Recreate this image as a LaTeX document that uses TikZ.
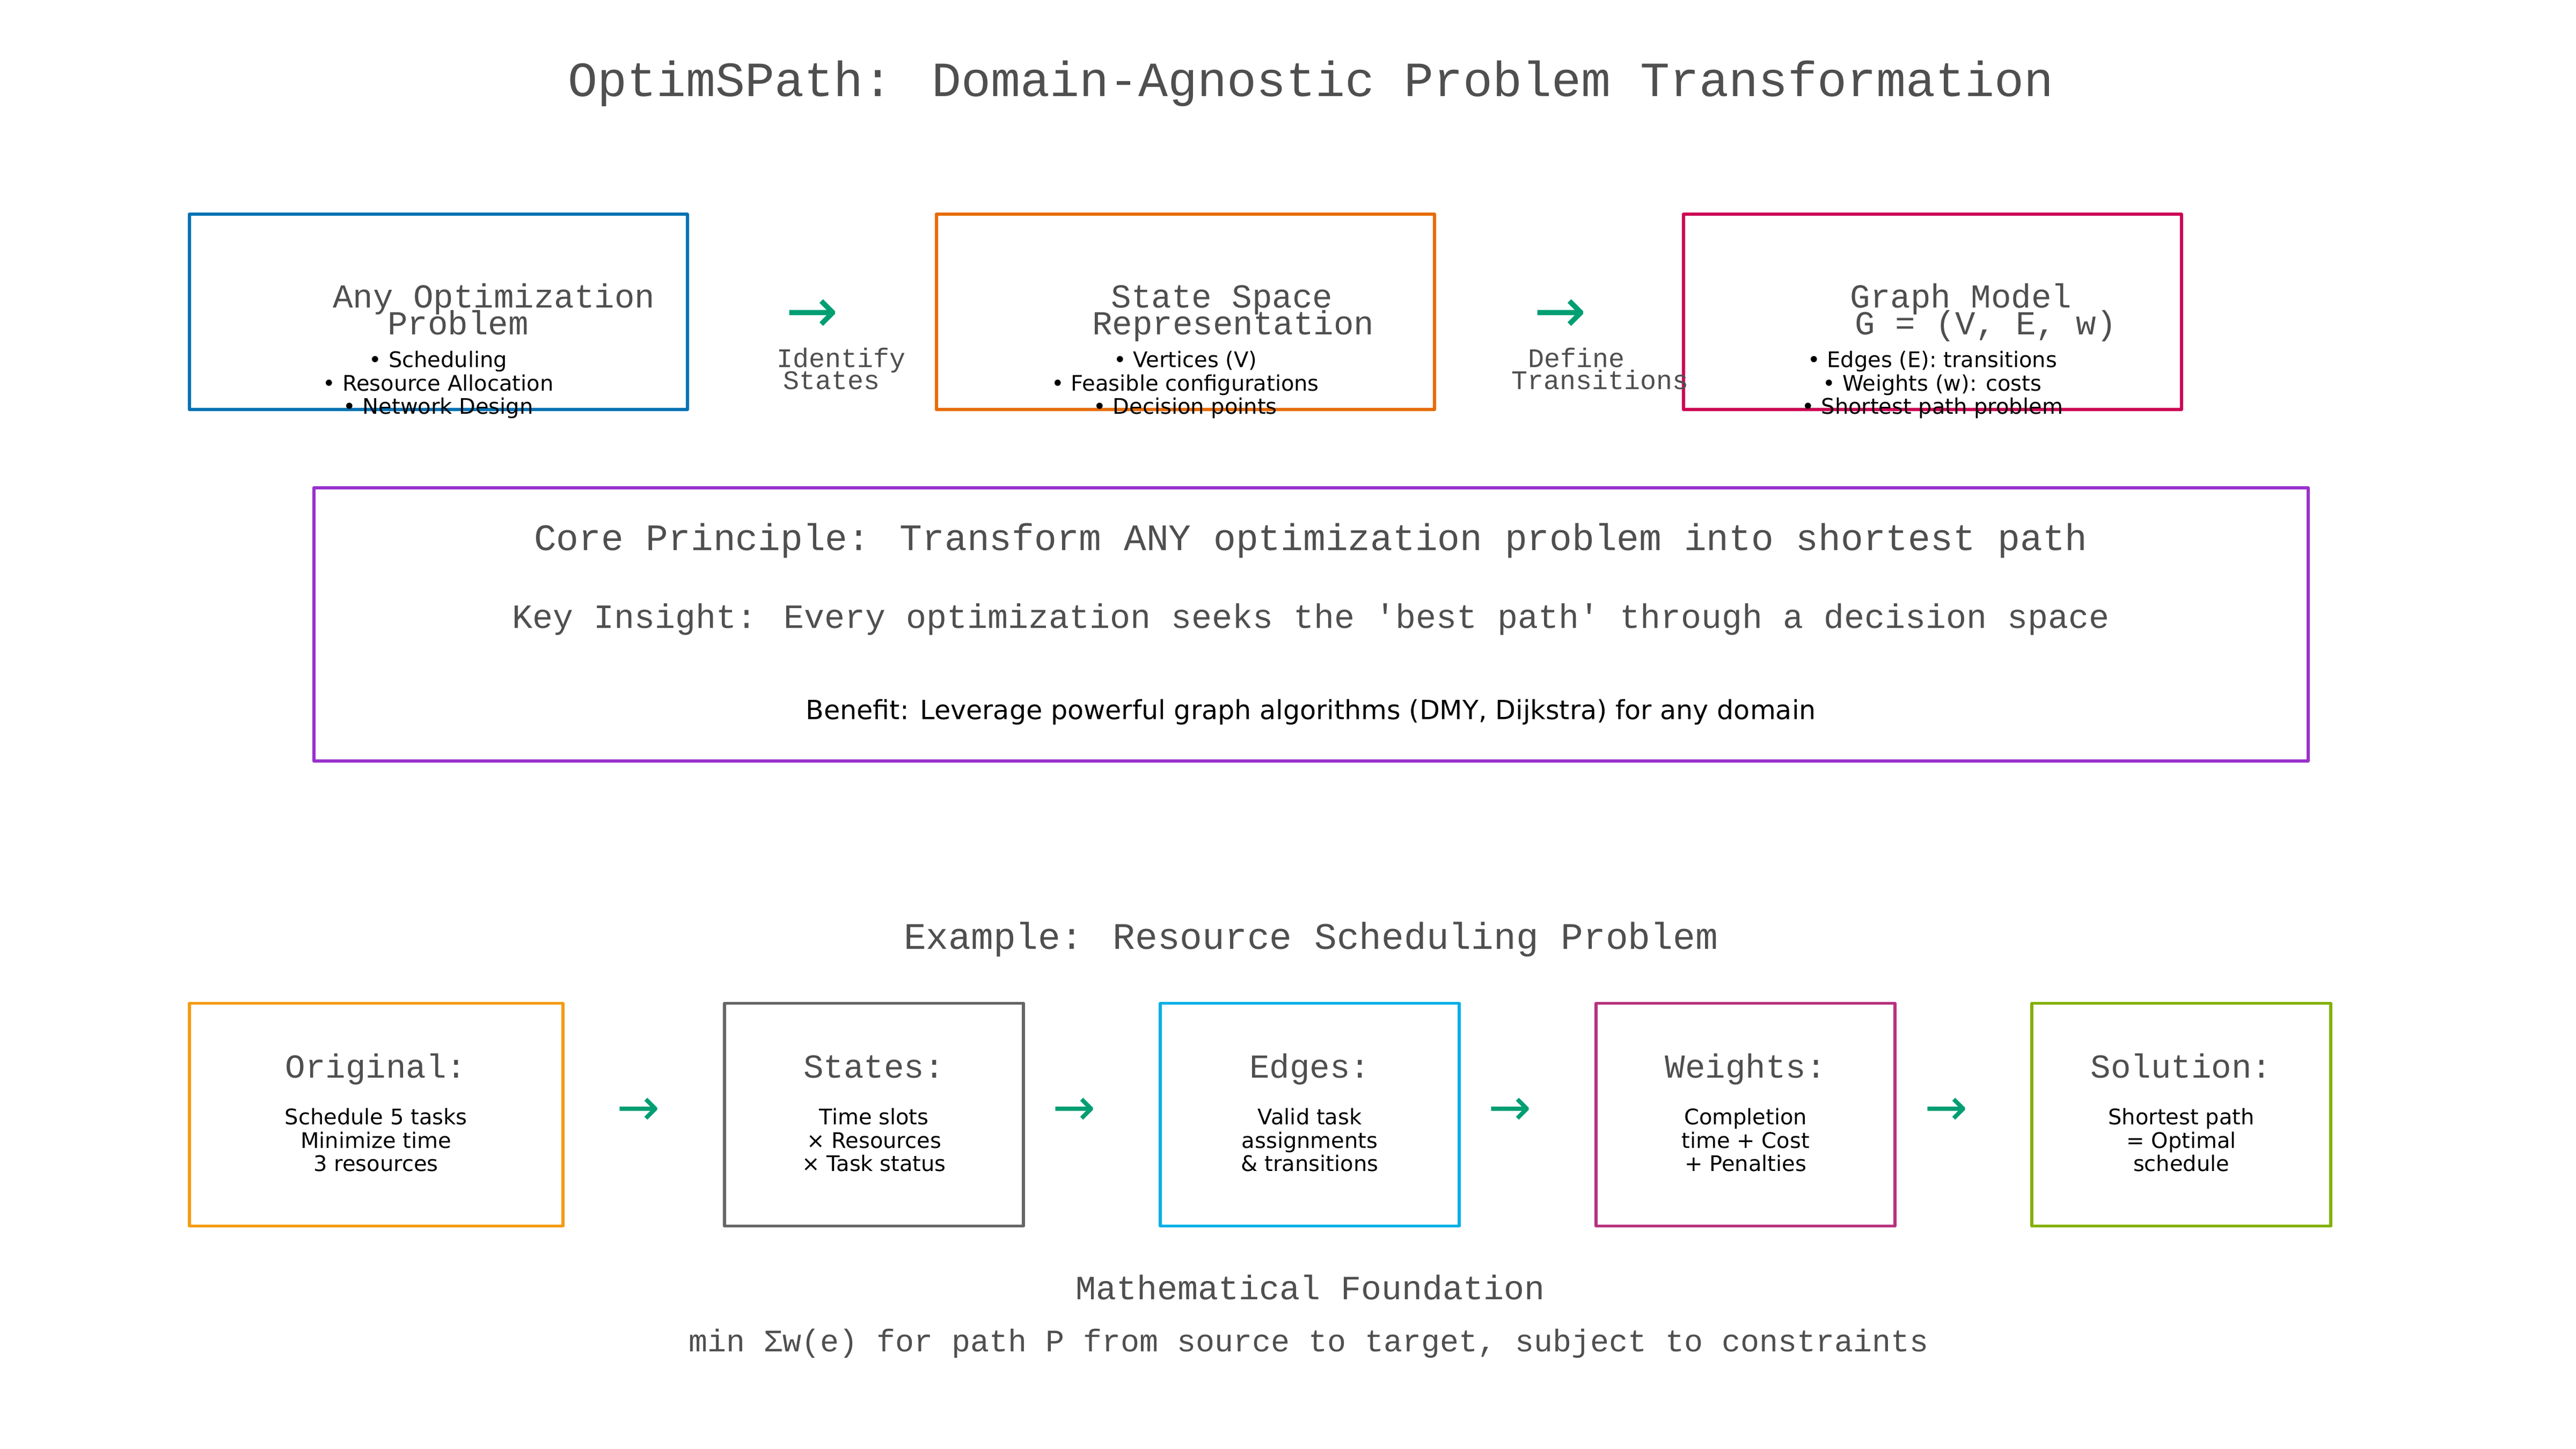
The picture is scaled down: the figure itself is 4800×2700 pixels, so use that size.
\documentclass[tikz,border=0pt]{standalone}
\usepackage{fontspec}
\setmainfont{DejaVu Sans}
\newfontfamily\monof{Liberation Mono}
\newfontfamily\arrowf{DejaVu Sans}
\definecolor{txtgray}{HTML}{4F4F4F}
\definecolor{cblue}{HTML}{0072B2}
\definecolor{corange}{HTML}{E66C00}
\definecolor{ccrimson}{HTML}{CC0055}
\definecolor{cpurple}{HTML}{9932CC}
\definecolor{cyellow}{HTML}{F39C12}
\definecolor{cgray}{HTML}{666666}
\definecolor{ccyan}{HTML}{00B0E6}
\definecolor{cmagenta}{HTML}{B8327F}
\definecolor{cgreen}{HTML}{84B000}
\definecolor{carrow}{HTML}{009E73}
\tikzset{
  frame/.style={draw, line width=1.4pt, inner sep=0, outer sep=0, line join=round, fill=none},
  mbase/.style={font=\monof, text=txtgray, inner sep=0, anchor=base},
  mtitle/.style={mbase, font=\monof\fontsize{22pt}{26pt}\selectfont},
  mbig/.style={mbase, font=\monof\fontsize{16.7pt}{20pt}\selectfont},
  mmid/.style={mbase, font=\monof\fontsize{15pt}{18pt}\selectfont},
  mkey/.style={mbase, font=\monof\fontsize{15.2pt}{18pt}\selectfont},
  msmall/.style={mbase, font=\monof\fontsize{12pt}{14pt}\selectfont},
  mfoot/.style={mbase, font=\monof\fontsize{14pt}{17pt}\selectfont},
  sbody/.style={font=\fontsize{9.6pt}{11.5pt}\selectfont, text=black, inner sep=0, anchor=base},
  sbenefit/.style={font=\fontsize{11.8pt}{14pt}\selectfont, text=black, inner sep=0, anchor=base},
  bigarrow/.style={font=\arrowf\fontsize{28pt}{30pt}\selectfont, text=carrow, inner sep=0, anchor=center},
  smallarrow/.style={font=\arrowf\fontsize{23pt}{25pt}\selectfont, text=carrow, inner sep=0, anchor=center},
  topbox/.style={frame, minimum width=928*0.24pt, minimum height=364*0.24pt},
  botbox/.style={frame, minimum width=556.8*0.24pt, minimum height=415*0.24pt}
}
\begin{document}
\begin{tikzpicture}[x=0.24pt,y=-0.24pt]
\useasboundingbox (0,0) rectangle (4800,2700);
\fill[white] (0,0) rectangle (4800,2700);

% Title
\node[mtitle] (title) at (2442.6,180) {OptimSPath: Domain-Agnostic Problem Transformation};

% Top row boxes
\node[topbox, draw=cblue] (tb1) at (816.6,581.3) {};
\node[topbox, draw=corange] (tb2) at (2208.6,581.3) {};
\node[topbox, draw=ccrimson] (tb3) at (3600.6,581.3) {};

% Box 1 text
\node[mmid] (t1a) at (920.3,573.3) {Any Optimization};
\node[mmid] (t1b) at (853.5,623.3) {Problem};
\node[sbody] (t1c) at (816.6,684.3) {• Scheduling};
\node[sbody] (t1d) at (816.6,728.3) {• Resource Allocation};
\node[sbody] (t1e) at (816.6,771.7) {• Network Design};

% Box 2 text
\node[mmid] (t2a) at (2276.8,573.3) {State Space};
\node[mmid] (t2b) at (2297.9,623.3) {Representation};
\node[sbody] (t2c) at (2208.6,684.3) {• Vertices (V)};
\node[sbody] (t2d) at (2208.6,728.3) {• Feasible configurations};
\node[sbody] (t2e) at (2208.6,771.7) {• Decision points};

% Box 3 text
\node[mmid] (t3a) at (3654.2,573.3) {Graph Model};
\node[mmid] (t3b) at (3699.8,623.3) {G = (V, E, w)};
\node[sbody] (t3c) at (3600.6,684.3) {• Edges (E): transitions};
\node[sbody] (t3d) at (3600.6,728.3) {• Weights (w): costs};
\node[sbody] (t3e) at (3600.6,771.7) {• Shortest path problem};

% Top arrows and labels
\node[bigarrow] (a1) at (1513.7,589) {→};
\node[msmall] (l1a) at (1567.5,684.3) {Identify};
\node[msmall] (l1b) at (1549,725.7) {States};
\node[bigarrow] (a2) at (2907,589) {→};
\node[msmall] (l2a) at (2937,684.3) {Define};
\node[msmall] (l2b) at (2981.8,725.7) {Transitions};

% Middle box
\node[frame, draw=cpurple, minimum width=3716*0.24pt, minimum height=509*0.24pt] (mb) at (2442.6,1163.5) {};
\node[mbig] (core) at (2442.6,1026) {Core Principle: Transform ANY optimization problem into shortest path};
\node[mkey] (key) at (2442.6,1170) {Key Insight: Every optimization seeks the 'best path' through a decision space};
\node[sbenefit] (benefit) at (2442.6,1340.6) {Benefit: Leverage powerful graph algorithms (DMY, Dijkstra) for any domain};

% Example header
\node[mbig] (example) at (2442.6,1768.6) {Example: Resource Scheduling Problem};

% Bottom boxes
\node[frame, draw=cyellow, minimum width=696*0.24pt, minimum height=415*0.24pt] (bb1) at (700.6,2077) {};
\node[botbox, draw=cgray] (bb2) at (1628.6,2077) {};
\node[botbox, draw=ccyan] (bb3) at (2440.6,2077) {};
\node[botbox, draw=cmagenta] (bb4) at (3252.6,2077) {};
\node[botbox, draw=cgreen] (bb5) at (4064.6,2077) {};

\node[mmid] (h1) at (700.6,2008.9) {Original:};
\node[sbody] (h1a) at (700.6,2095.8) {Schedule 5 tasks};
\node[sbody] (h1b) at (700.6,2139.5) {Minimize time};
\node[sbody] (h1c) at (700.6,2182.7) {3 resources};

\node[mmid] (h2) at (1628.6,2008.9) {States:};
\node[sbody] (h2a) at (1628.6,2095.8) {Time slots};
\node[sbody] (h2b) at (1628.6,2139.5) {× Resources};
\node[sbody] (h2c) at (1628.6,2182.7) {× Task status};

\node[mmid] (h3) at (2440.6,2008.9) {Edges:};
\node[sbody] (h3a) at (2440.6,2095.8) {Valid task};
\node[sbody] (h3b) at (2440.6,2139.5) {assignments};
\node[sbody] (h3c) at (2440.6,2182.7) {\& transitions};

\node[mmid] (h4) at (3252.6,2008.9) {Weights:};
\node[sbody] (h4a) at (3252.6,2095.8) {Completion};
\node[sbody] (h4b) at (3252.6,2139.5) {time + Cost};
\node[sbody] (h4c) at (3252.6,2182.7) {+ Penalties};

\node[mmid] (h5) at (4064.6,2008.9) {Solution:};
\node[sbody] (h5a) at (4064.6,2095.8) {Shortest path};
\node[sbody] (h5b) at (4064.6,2139.5) {= Optimal};
\node[sbody] (h5c) at (4064.6,2182.7) {schedule};

% Bottom arrows
\node[smallarrow] (ba1) at (1189.4,2071) {→};
\node[smallarrow] (ba2) at (2001.7,2071) {→};
\node[smallarrow] (ba3) at (2813.5,2071) {→};
\node[smallarrow] (ba4) at (3626.6,2071) {→};

% Footer
\node[mkey] (math) at (2441.5,2421.7) {Mathematical Foundation};
\node[mfoot] (formula) at (2439,2518.3) {min Σw(e) for path P from source to target, subject to constraints};
\end{tikzpicture}
\end{document}
